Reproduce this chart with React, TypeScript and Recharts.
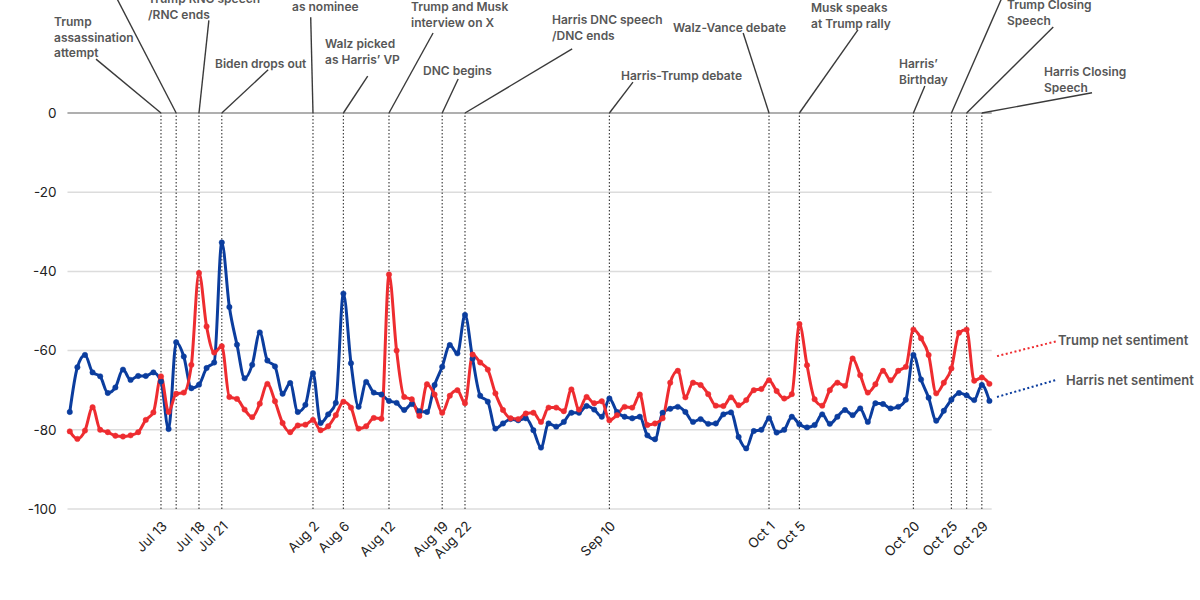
import { CartesianGrid, Line, LineChart, ReferenceLine, XAxis, YAxis } from "recharts";

// daily net sentiment, Jul 1 (day 0) to Oct 30 (day 121)
const harris = [
  -75.5, -64.2, -61.1, -65.5, -66.5, -70.7, -69.3, -64.8, -67.4, -66.4,
  -66.4, -65.5, -67.8, -79.8, -57.9, -61.5, -69.5, -68.6, -64.4, -63.0,
  -32.7, -49.0, -58.5, -67.0, -63.6, -55.4, -62.5, -64.0, -70.9, -68.2,
  -75.5, -73.7, -65.7, -78.3, -76.1, -73.2, -45.6, -63.2, -74.2, -67.9,
  -70.6, -71.1, -72.7, -73.2, -75.0, -73.5, -75.3, -75.5, -68.7, -64.1,
  -58.6, -60.7, -51.0, -62.0, -71.4, -72.9, -79.7, -78.4, -77.3, -77.6,
  -77.1, -80.1, -84.5, -78.4, -79.2, -78.0, -75.7, -75.7, -74.0, -74.9,
  -76.7, -72.1, -75.5, -76.7, -77.1, -76.7, -81.4, -82.4, -75.7, -74.7,
  -74.2, -75.5, -78.0, -77.3, -78.5, -78.4, -76.1, -75.6, -81.8, -84.7,
  -80.3, -80.0, -77.1, -80.7, -80.0, -76.7, -78.6, -79.4, -78.8, -76.1,
  -78.5, -76.7, -75.0, -76.3, -74.6, -78.0, -73.3, -73.5, -74.6, -74.2,
  -72.4, -61.1, -67.3, -71.9, -77.7, -75.2, -72.4, -70.7, -71.3, -72.5,
  -68.7, -72.7,
];

const trump = [
  -80.4, -82.3, -80.2, -74.3, -80.0, -80.6, -81.5, -81.7, -81.4, -80.6,
  -77.5, -75.6, -66.5, -75.5, -70.9, -70.6, -63.6, -40.4, -53.9, -60.5,
  -58.9, -71.7, -72.2, -74.9, -76.8, -73.4, -68.4, -72.8, -78.3, -80.6,
  -78.9, -78.7, -77.5, -80.1, -79.1, -76.3, -72.9, -74.4, -79.7, -79.1,
  -77.0, -77.2, -40.8, -60.0, -71.7, -72.3, -76.5, -68.5, -71.1, -75.7,
  -71.4, -70.0, -73.3, -61.0, -63.0, -64.8, -70.8, -75.0, -77.1, -77.3,
  -75.9, -75.7, -78.0, -74.4, -74.4, -75.3, -69.8, -74.9, -71.7, -73.3,
  -72.8, -77.6, -76.3, -74.2, -74.4, -71.1, -78.8, -78.4, -77.1, -68.1,
  -65.1, -71.8, -68.1, -68.7, -71.0, -73.9, -74.0, -71.8, -73.8, -72.5,
  -70.0, -69.7, -67.5, -70.2, -72.1, -71.0, -53.3, -63.7, -72.3, -73.9,
  -70.0, -68.1, -68.9, -62.0, -66.2, -70.6, -68.5, -65.1, -67.5, -65.1,
  -64.1, -54.7, -56.9, -61.1, -70.8, -68.1, -64.5, -55.5, -54.7, -67.6,
  -66.8, -68.4,
];

const yTicks = [0, -20, -40, -60, -80, -100];

// labelled dates on the x axis (day index from Jul 1)
const tickDays = [12, 17, 20, 32, 36, 42, 49, 52, 71, 92, 96, 111, 116, 120];
const tickLabels = ["Jul 13", "Jul 18", "Jul 21", "Aug 2", "Aug 6", "Aug 12", "Aug 19", "Aug 22", "Sep 10", "Oct 1", "Oct 5", "Oct 20", "Oct 25", "Oct 29"];

// event markers: day, leader end (chart units), label lines, label position (px)
const eventDays = [12, 14, 17, 20, 32, 36, 42, 49, 52, 71, 92, 96, 111, 116, 118, 120];
const eventLabels = [
  ["Trump", "assassination", "attempt"],
  [],
  ["Trump RNC speech", "/RNC ends"],
  ["Biden drops out"],
  ["Harris confirmed", "as nominee"],
  ["Walz picked", "as Harris’ VP"],
  ["Trump and Musk", "interview on X"],
  ["DNC begins"],
  ["Harris DNC speech", "/DNC ends"],
  ["Harris-Trump debate"],
  ["Walz-Vance debate"],
  ["Musk speaks", "at Trump rally"],
  ["Harris’", "Birthday"],
  [],
  ["Trump Closing", "Speech"],
  ["Harris Closing", "Speech"],
];
const leaderEnds = [
  [3.45, 13.6], [5.5, 31.5], [18.3, 23.4], [26.1, 10.9], [31.7, 24.2], [39.2, 9.3],
  [47.8, 20.2], [51.1, 8.6], [66.1, 16.2], [74.1, 7.8], [88.6, 20.2], [103.7, 21],
  [112.5, 6.8], [123.1, 31.1], [129.4, 21.7], [134.5, 5.1],
];
const labelPos = [
  [54, 21], [0, 0], [148, -2], [215, 63], [292, -10], [325, 43],
  [411, 6], [423, 70], [552, 19], [621, 75], [673, 27], [811, 7],
  [899, 63], [0, 0], [1007, 4], [1044, 71],
];

const data = trump.map((t, i) => ({ day: i, trump: t, harris: harris[i] }));

const RED = "#ee2c30";
const BLUE = "#0b3d9e";
const FONT = "Inter, 'Open Sans', sans-serif";

const DateTick = (props: any) => {
  const { x, payload } = props;
  const label = tickLabels[tickDays.indexOf(payload.value)];
  const px = x + 7;
  const py = 527;
  return (
    <text x={px} y={py} transform={`rotate(-45 ${px} ${py})`} textAnchor="end" fontSize={13.5} fontFamily={FONT} fill="#222">
      {label}
    </text>
  );
};

export default function App() {
  return (
    <div style={{ position: "absolute", left: 0, top: 0, width: 1200, height: 600, background: "#fff" }}>
      <LineChart width={1200} height={600} data={data} margin={{ top: 113, right: 208.3, bottom: 31, left: 17.5 }}>
        <CartesianGrid vertical={false} stroke="#dcdcdc" strokeWidth={1.5} />
        <XAxis
          dataKey="day"
          type="number"
          domain={[-0.3, 121.3]}
          ticks={tickDays}
          interval={0}
          height={60}
          axisLine={false}
          tickLine={false}
          tick={<DateTick />}
        />
        <YAxis
          domain={[-100, 0]}
          ticks={yTicks}
          width={50}
          axisLine={false}
          tickLine={false}
          tickMargin={5}
          tick={{ fontSize: 13.5, fontFamily: FONT, fill: "#222" }}
        />
        <ReferenceLine y={0} stroke="#7a7a7a" strokeWidth={1.2} />
        {eventDays.map((d) => (
          <ReferenceLine key={`v${d}`} x={d} stroke="#444" strokeWidth={1.2} strokeDasharray="1.5 2" />
        ))}
        {eventDays.map((d, i) => (
          <ReferenceLine
            key={`l${d}`}
            ifOverflow="visible"
            stroke="#3a3a3a"
            strokeWidth={1.4}
            segment={[{ x: d, y: 0 }, { x: leaderEnds[i][0], y: leaderEnds[i][1] }]}
          />
        ))}
        <ReferenceLine ifOverflow="visible" stroke={RED} strokeWidth={2} strokeDasharray="2 2.5"
          segment={[{ x: 122, y: -61.4 }, { x: 129.9, y: -57.6 }]} />
        <ReferenceLine ifOverflow="visible" stroke={BLUE} strokeWidth={2} strokeDasharray="2 2.5"
          segment={[{ x: 122, y: -71.7 }, { x: 129.8, y: -67.4 }]} />
        <Line
          type="monotone"
          dataKey="harris"
          name="Harris net sentiment"
          stroke={BLUE}
          strokeWidth={3}
          dot={{ r: 2.7, fill: BLUE, stroke: BLUE, strokeWidth: 0.5 }}
          isAnimationActive={false}
        />
        <Line
          type="monotone"
          dataKey="trump"
          name="Trump net sentiment"
          stroke={RED}
          strokeWidth={3}
          dot={{ r: 2.7, fill: RED, stroke: RED, strokeWidth: 0.5 }}
          isAnimationActive={false}
        />
      </LineChart>
      <svg width={1200} height={600} style={{ position: "absolute", left: 0, top: 0, pointerEvents: "none" }}>
        <g fontFamily={FONT} fontWeight={600} fontSize={12} fill="#575757">
          {eventLabels.map((lines, i) =>
            lines.length === 0 ? null : (
              <text key={i} x={labelPos[i][0]} y={labelPos[i][1]} dominantBaseline="central">
                {lines.map((ln, j) => (
                  <tspan key={j} x={labelPos[i][0]} dy={j === 0 ? 0 : 15.6}>
                    {ln}
                  </tspan>
                ))}
              </text>
            )
          )}
          <text x={1058} y={340} dominantBaseline="central" fontSize={13}>Trump net sentiment</text>
          <text x={1066} y={380} dominantBaseline="central" fontSize={13}>Harris net sentiment</text>
        </g>
      </svg>
    </div>
  );
}
